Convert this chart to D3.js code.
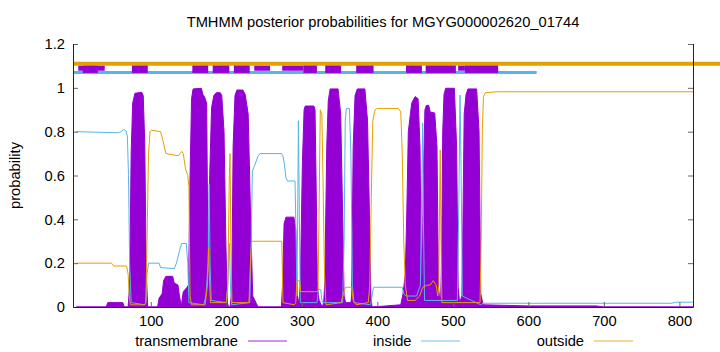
<!DOCTYPE html>
<html>
<head>
<meta charset="utf-8">
<script src="https://cdn.jsdelivr.net/npm/d3@7"></script>
<style>
  html, body { margin: 0; padding: 0; background: #fff; }
  svg { display: block; font-family: "Liberation Sans", Arial, Helvetica, sans-serif; }
</style>
</head>
<body>
<svg id="chart" width="720" height="352"></svg>
<script>
// ---------- data ----------
const title = "TMHMM posterior probabilities for MGYG000002620_01744";
const yLabel = "probability";
const seriesNames = ["transmembrane", "inside", "outside"];
const xTickValues = [100, 200, 300, 400, 500, 600, 700, 800];
const yTickValues = [0, 0.2, 0.4, 0.6, 0.8, 1.0, 1.2];
const yTickLabels = ["0", "0.2", "0.4", "0.6", "0.8", "1", "1.2"];

// transmembrane posterior: residue positions and probabilities
const tmPos = [1, 41, 43, 63, 65, 70, 72, 74, 76, 79, 88, 90, 92, 94, 96,
  109, 111, 115, 117, 120, 129, 131, 136, 138, 140, 141, 143, 148,
  150, 152, 154, 156, 167, 169, 171, 174, 175.5, 176.5,
  178, 180.5, 183.5, 187, 192, 194, 197, 199.5, 201.5, 203, 205,
  206.5, 207.5, 209, 211.5, 214, 222, 225, 229, 232, 235, 240, 242,
  273, 274.5, 276.5, 279, 289.5, 292, 294, 296, 298, 300.7, 303, 304.5, 316, 317.5, 319, 320.5, 322,
  323, 327, 329, 330.5, 333, 335, 337.5, 348, 351.5, 354, 356, 358,
  365, 366, 368, 370.5, 373.5, 383.5, 387, 389.5, 391.5, 393,
  431, 434, 437, 439, 441, 445.5, 450, 454, 456.5, 458.5,
  459.5, 461, 463, 465, 468, 470, 476, 479, 481, 483,
  484, 485.3, 486.6, 488.3, 490.5, 502, 505, 507, 509,
  512, 513, 515, 517.5, 520, 531.5, 534.7, 537, 540, 600, 690, 700, 818];
const tmVal = [0, 0, 0.02, 0.02, 0, 0, 0.1, 0.7, 0.93, 0.975, 0.98, 0.965, 0.75, 0.15, 0,
  0, 0.04, 0.06, 0.12, 0.14, 0.14, 0.11, 0.10, 0.05, 0.01, 0.02, 0.07, 0.09,
  0.1, 0.6, 0.95, 0.995, 0.998, 0.97, 0.96, 0.93, 0.3, 0.2,
  0.6, 0.91, 0.965, 0.978, 0.978, 0.965, 0.8, 0.28, 0.02, 0, 0,
  0.05, 0.15, 0.73, 0.965, 0.99, 0.99, 0.97, 0.88, 0.43, 0.05, 0.015, 0,
  0, 0.1, 0.38, 0.41, 0.41, 0.35, 0.05, 0.02, 0.1, 0.65, 0.9, 0.917, 0.917, 0.9, 0.55, 0.12, 0.05,
  0.03, 0, 0.02, 0.12, 0.73, 0.94, 0.995, 0.995, 0.88, 0.43, 0.05, 0.02,
  0.02, 0.05, 0.73, 0.965, 0.995, 0.995, 0.85, 0.43, 0.05, 0,
  0.01, 0.06, 0.15, 0.43, 0.8, 0.93, 0.96, 0.95, 0.73, 0.1,
  0.15, 0.6, 0.9, 0.92, 0.92, 0.89, 0.885, 0.73, 0.09, 0.02,
  0.05, 0.27, 0.8, 0.97, 0.998, 0.998, 0.73, 0.09, 0.02,
  0.05, 0.28, 0.88, 0.97, 0.995, 0.995, 0.8, 0.06, 0.01, 0.005, 0.005, 0, 0];

// inside posterior
const inPos = [1, 57, 61, 63.5, 67, 69, 70.5, 72, 74, 92, 93.5, 95, 97, 111, 113, 131, 134, 139, 141, 147, 149, 150.5,
  170, 173, 176, 177.3, 178.5, 180, 200, 202, 204, 205.5, 207,
  231, 233, 234.5, 238, 242, 245, 273, 275, 277, 279, 281, 291, 292.5, 293.5, 294.5, 295.5, 296.5, 298,
  320, 322, 325, 327, 354, 356, 357.5, 359, 363, 365, 367, 369,
  391, 393, 395, 433, 435, 438, 452, 457, 459, 460, 461, 462.5,
  506, 508, 509.5, 511, 512.5, 537, 540, 790, 795, 818];
const inVal = [0.80, 0.795, 0.80, 0.81, 0.805, 0.78, 0.6, 0.2, 0.02, 0.01, 0.02, 0.15, 0.2, 0.2, 0.18, 0.175, 0.2, 0.27, 0.29, 0.29, 0.2, 0.02,
  0.01, 0.05, 0.2, 0.56, 0.2, 0.03, 0.02, 0.1, 0.29, 0.1, 0.01,
  0.02, 0.3, 0.62, 0.65, 0.69, 0.70, 0.70, 0.69, 0.65, 0.59, 0.575, 0.575, 0.3, 0.05, 0.4, 0.85, 0.5, 0.02,
  0.02, 0.08, 0.08, 0.02, 0.02, 0.3, 0.85, 0.906, 0.906, 0.7, 0.1, 0.02,
  0.01, 0.05, 0.09, 0.09, 0.06, 0.05, 0.05, 0.1, 0.6, 0.84, 0.4, 0.03,
  0.03, 0.5, 0.967, 0.6, 0.05, 0.01, 0.017, 0.017, 0.022, 0.022];

// outside posterior
const outPos = [1, 48, 51, 68, 70, 71.5, 73, 92, 93.5, 95, 97, 99, 101, 113, 116, 120, 136, 139, 141, 143, 146, 149, 150.5, 152, 154,
  172, 175, 176.5, 177.5, 179, 200, 202, 204, 205, 206, 207.5,
  230, 232, 233.5, 273, 273.5, 275, 290, 292, 293.5, 297, 298.5, 321, 321.5, 323, 324.5, 326.5, 328, 330, 332,
  352, 355, 358, 366, 368, 372, 388, 390, 392, 394, 397, 400, 428, 431, 433, 435, 437, 440,
  450, 456, 460, 466, 470, 474, 478, 480, 481.5, 482.5, 483.3, 484.3, 485.5,
  536, 537.5, 539, 540.5, 543, 560, 818];
const outVal = [0.2, 0.2, 0.187, 0.187, 0.15, 0.05, 0.01, 0.01, 0.02, 0.3, 0.7, 0.8, 0.807, 0.8, 0.76, 0.7, 0.69, 0.7, 0.71, 0.7, 0.63, 0.6, 0.55, 0.05, 0.01,
  0.01, 0.1, 0.27, 0.15, 0.02, 0.02, 0.1, 0.6, 0.70, 0.3, 0.02,
  0.02, 0.2, 0.3, 0.3, 0.3, 0.02, 0.01, 0.02, 0.12, 0.12, 0.07, 0.07, 0.07, 0.5, 0.9, 0.88, 0.6, 0.15, 0.01,
  0.02, 0.06, 0.09, 0.09, 0.03, 0.01, 0.02, 0.1, 0.5, 0.85, 0.9, 0.906, 0.906, 0.89, 0.7, 0.3, 0.1, 0.03,
  0.03, 0.05, 0.09, 0.1, 0.1, 0.12, 0.1, 0.05, 0.1, 0.5, 0.716, 0.3, 0.02,
  0.02, 0.3, 0.8, 0.96, 0.978, 0.982, 0.982];

// predicted topology strip above the curves (residue ranges)
const topOutside = [[-3, 855]];
const topInside = [[-3, 611]];
const topTmStart = [10, 75, 155, 182, 210, 302, 331, 372, 438, 464, 516];
const topTmEnd   = [30, 96, 176, 204, 231, 320, 352, 395, 459, 504, 560];
const topTmThinStart = [4, 237, 274, 507];
const topTmThinEnd   = [39, 258, 302, 516];
const topLevels = { outside: 1.11, tm: 1.09, inside: 1.07 };

// ---------- drawing ----------
const colors = { tm: "#9400D3", inside: "#56B4E9", outside: "#E69F00" };
const svg = d3.select("#chart");
const plot = { left: 73, right: 693, top: 44, bottom: 307 };
const fontSize = 14.7;

const x = d3.scaleLinear().domain([-3, 818]).range([plot.left, plot.right]);
const y = d3.scaleLinear().domain([0, 1.2]).range([plot.bottom, plot.top]);

svg.append("defs").append("clipPath").attr("id", "clip")
  .append("rect").attr("x", plot.left).attr("y", plot.top)
  .attr("width", plot.right - plot.left).attr("height", plot.bottom - plot.top);

// title
svg.append("text").attr("x", (plot.left + plot.right) / 2).attr("y", 26.5)
  .attr("text-anchor", "middle").attr("font-size", fontSize).attr("fill", "#000")
  .text(title);

// y label
svg.append("text").attr("transform", `translate(19.5,${(plot.top + plot.bottom) / 2}) rotate(-90)`)
  .attr("text-anchor", "middle").attr("font-size", fontSize).attr("fill", "#000")
  .text(yLabel);

const gPlot = svg.append("g").attr("clip-path", "url(#clip)");

const tmData = tmPos.map((p, i) => [p, tmVal[i]]);
const inData = inPos.map((p, i) => [p, inVal[i]]);
const outData = outPos.map((p, i) => [p, outVal[i]]);

gPlot.append("path").datum(tmData)
  .attr("d", d3.area().x(d => x(d[0])).y0(y(0)).y1(d => y(d[1])))
  .attr("fill", colors.tm).attr("stroke", colors.tm).attr("stroke-width", 1);

const lineGen = d3.line().x(d => x(d[0])).y(d => y(d[1]));
gPlot.append("path").datum(inData).attr("d", lineGen)
  .attr("fill", "none").attr("stroke", colors.inside).attr("stroke-width", 1);
gPlot.append("path").datum(outData).attr("d", lineGen)
  .attr("fill", "none").attr("stroke", colors.outside).attr("stroke-width", 1);

// topology strip (not clipped at the right, as in the reference)
const gTop = svg.append("g");
topInside.forEach(s => gTop.append("line")
  .attr("x1", x(s[0])).attr("x2", x(s[1])).attr("y1", y(topLevels.inside)).attr("y2", y(topLevels.inside))
  .attr("stroke", colors.inside).attr("stroke-width", 3));
topTmThinStart.forEach((s, i) => gTop.append("rect")
  .attr("x", x(s)).attr("width", x(topTmThinEnd[i]) - x(s))
  .attr("y", y(topLevels.tm + 0.012)).attr("height", y(topLevels.tm - 0.012) - y(topLevels.tm + 0.012))
  .attr("fill", colors.tm));
topTmStart.forEach((s, i) => gTop.append("rect")
  .attr("x", x(s)).attr("width", x(topTmEnd[i]) - x(s))
  .attr("y", y(topLevels.tm + 0.022)).attr("height", y(topLevels.tm - 0.022) - y(topLevels.tm + 0.022))
  .attr("fill", colors.tm));
topOutside.forEach(s => gTop.append("line")
  .attr("x1", x(s[0])).attr("x2", x(s[1])).attr("y1", y(topLevels.outside)).attr("y2", y(topLevels.outside))
  .attr("stroke", colors.outside).attr("stroke-width", 4));

// axes
const xAxis = d3.axisBottom(x).tickValues(xTickValues).tickSize(-5).tickPadding(9).tickFormat(d3.format("d"));
const gx = svg.append("g").attr("transform", `translate(0,${plot.bottom})`).call(xAxis);
const yAxis = d3.axisLeft(y).tickValues(yTickValues).tickSize(-5).tickPadding(8)
  .tickFormat((d, i) => yTickLabels[i]);
const gy = svg.append("g").attr("transform", `translate(${plot.left},0)`).call(yAxis);
const yAxisR = d3.axisRight(y).tickValues(yTickValues).tickSize(-5).tickFormat("");
const gyr = svg.append("g").attr("transform", `translate(${plot.right},0)`).call(yAxisR);
[gx, gy, gyr].forEach(a => {
  a.select(".domain").remove();
  a.selectAll(".tick line").attr("stroke", "#666");
  a.selectAll("text").attr("font-size", fontSize).attr("fill", "#000")
    .attr("font-family", '"Liberation Sans", Arial, Helvetica, sans-serif');
});

// border: left, bottom, right
svg.append("path")
  .attr("d", `M${plot.left + 0.5},${plot.top}V${plot.bottom + 0.5}H${plot.right + 0.5}V${plot.top}`)
  .attr("fill", "none").attr("stroke", "#222").attr("stroke-width", 1);

// legend
const legendItems = [
  { name: seriesNames[0], color: colors.tm, textEnd: 238, lineX: 248 },
  { name: seriesNames[1], color: colors.inside, textEnd: 411.5, lineX: 421 },
  { name: seriesNames[2], color: colors.outside, textEnd: 584, lineX: 594 }
];
legendItems.forEach(it => {
  svg.append("text").attr("x", it.textEnd).attr("y", 346).attr("text-anchor", "end")
    .attr("font-size", fontSize).attr("fill", "#000").text(it.name);
  svg.append("line").attr("x1", it.lineX).attr("x2", it.lineX + 39)
    .attr("y1", 341).attr("y2", 341).attr("stroke", it.color).attr("stroke-width", 1)
    .attr("stroke-opacity", 0.85);
});
</script>
</body>
</html>
